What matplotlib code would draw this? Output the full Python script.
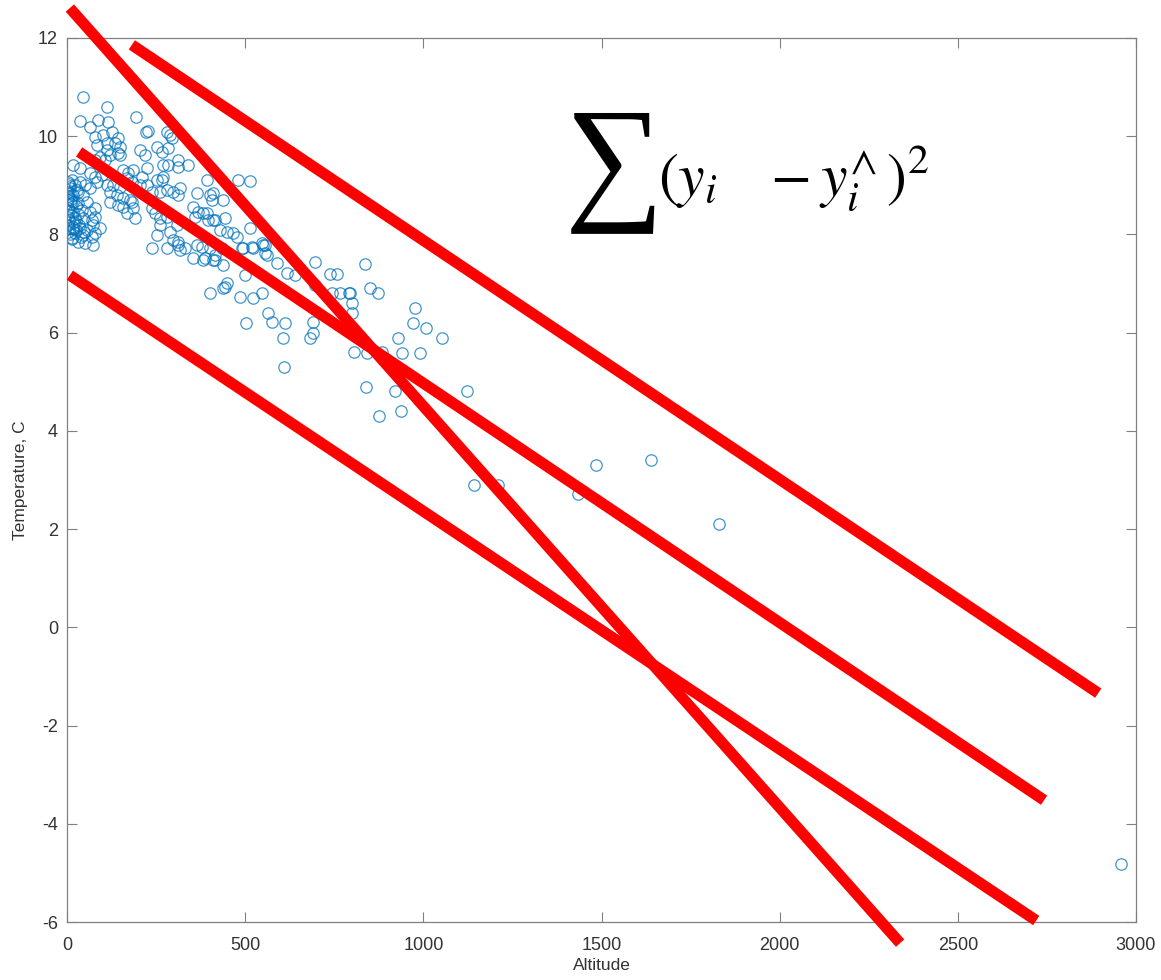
import matplotlib
matplotlib.use('Agg')
import matplotlib.pyplot as plt
import numpy as np

plt.rcParams['font.family'] = ['Liberation Sans', 'DejaVu Sans']
plt.rcParams['mathtext.fontset'] = 'stix'
plt.rcParams['axes.unicode_minus'] = False

# altitude / temperature readings
alt_low = [45, 112, 36, 65, 87, 115, 194, 227, 222, 281, 79, 101, 126, 143, 84, 112, 135, 149,
           112, 121, 143, 149, 253, 267, 283, 205, 219, 93, 79, 107, 17, 36, 269, 283, 312, 157,
           185, 171, 65, 79, 98, 225, 211, 253, 267, 269, 3, 14, 22, 36, 51, 65, 84, 112, 129,
           149, 168, 182, 205, 225, 239, 261, 281, 298, 8, 3, 17, 31, 45, 121, 140, 157, 177,
           3, 17, 31, 56, 121, 143, 157, 185, 182, 3, 17, 42, 65, 79, 191, 168, 3, 22, 45, 70,
           79, 239, 247, 261, 281, 3, 17, 36, 56, 73, 93, 3, 22, 45, 70, 79, 14, 31, 51, 73,
           253, 289, 309, 261, 312, 239, 281,
           8, 3, 10, 5, 12, 20, 26, 8, 14, 28, 5, 10, 24, 33, 6, 18, 40, 9, 30, 48, 12, 25]
temp_low = [10.8, 10.59, 10.31, 10.19, 10.33, 10.29, 10.39, 10.11, 10.09, 10.09, 9.98, 10.02,
            10.09, 9.96, 9.82, 9.86, 9.86, 9.78, 9.72, 9.62, 9.66, 9.62, 9.78, 9.68, 9.76, 9.72,
            9.62, 9.58, 9.51, 9.51, 9.41, 9.35, 9.41, 9.41, 9.37, 9.31, 9.31, 9.25, 9.25, 9.17,
            9.21, 9.35, 9.17, 9.11, 9.11, 9.17, 9.07, 9.11, 9.0, 9.07, 9.0, 8.94, 9.07, 9.0, 9.0,
            8.96, 9.15, 9.07, 9.0, 9.0, 8.86, 8.86, 8.9, 8.86, 8.94, 8.86, 8.8, 8.86, 8.8, 8.86,
            8.8, 8.74, 8.7, 8.7, 8.66, 8.64, 8.66, 8.66, 8.6, 8.56, 8.54, 8.66, 8.54, 8.46, 8.5,
            8.46, 8.54, 8.33, 8.44, 8.35, 8.33, 8.33, 8.29, 8.35, 8.54, 8.44, 8.33, 8.35, 8.19,
            8.15, 8.13, 8.09, 8.19, 8.13, 8.05, 8.03, 7.99, 7.95, 8.03, 7.93, 7.84, 7.82, 7.78,
            7.99, 8.05, 8.19, 8.19, 7.84, 7.72, 7.72,
            8.98, 8.78, 8.62, 8.48, 8.4, 8.25, 8.1, 8.0, 7.9, 8.9, 8.3, 8.72, 8.58, 8.2, 9.02,
            8.12, 7.95, 8.85, 8.42, 8.05, 8.68, 8.28]

alt_mid = [289, 295, 312, 340, 393, 480, 514, 317, 312, 365, 401, 407, 438, 354, 368, 359,
           382, 396, 410, 443, 429, 449, 466, 477, 514, 298, 312, 331, 317, 365, 379, 401, 415,
           435, 491, 519, 550, 354, 382, 410, 556, 696, 410, 415, 393, 494, 522, 556, 547, 387,
           415, 438, 500, 561, 589, 617, 640, 738, 758, 836, 696, 744, 766, 794, 800, 850, 873,
           443, 438, 449, 401, 486, 522, 547, 502, 564, 575, 612, 606, 690, 682, 690, 609, 977,
           971, 1008, 1052, 929, 940, 991, 805, 842, 884, 839, 920, 1123, 937, 876, 800, 791]
temp_mid = [10.02, 9.96, 9.51, 9.41, 9.11, 9.11, 9.09, 8.94, 8.8, 8.84, 8.8, 8.7, 8.7, 8.56,
            8.46, 8.35, 8.44, 8.29, 8.29, 8.33, 8.09, 8.05, 8.03, 7.95, 8.13, 7.89, 7.78, 7.72,
            7.68, 7.78, 7.74, 7.72, 7.58, 7.72, 7.72, 7.74, 7.78, 7.52, 7.48, 7.48, 7.62, 7.44,
            8.85, 8.3, 8.44, 7.72, 7.72, 7.78, 7.82, 7.52, 7.48, 7.38, 7.17, 7.58, 7.42, 7.21,
            7.17, 7.19, 7.19, 7.4, 6.97, 6.81, 6.81, 6.81, 6.6, 6.91, 6.81, 6.93, 6.91, 7.01,
            6.81, 6.73, 6.71, 6.81, 6.2, 6.4, 6.22, 6.2, 5.89, 6.22, 5.89, 5.99, 5.3, 6.5, 6.2,
            6.09, 5.89, 5.89, 5.58, 5.58, 5.6, 5.58, 5.6, 4.89, 4.81, 4.81, 4.4, 4.3, 6.4, 6.81]

alt_high = [1142, 1210, 1434, 1485, 1639, 1830, 2958]
temp_high = [2.89, 2.89, 2.71, 3.3, 3.4, 2.1, -4.81]

altitude = alt_low + alt_mid + alt_high
temperature = temp_low + temp_mid + temp_high

# candidate fit lines (start / end points)
line_x = [[8, 2338], [182, 2894], [34, 2742], [8, 2720]]
line_y = [[12.61, -6.43], [11.86, -1.34], [9.68, -3.52], [7.17, -5.97]]

fig = plt.figure(figsize=(11.61, 9.80), dpi=100)
ax = fig.add_axes([67/1161, 58/980, 1069/1161, 884/980])

ax.plot(altitude, temperature, 'o', mfc='none', mec=(0.0, 0.447, 0.741), ms=8.2, mew=0.9, alpha=0.75)

for lx, ly in zip(line_x, line_y):
    ax.plot(lx, ly, color='#ff0000', lw=8, solid_capstyle='butt', clip_on=False, zorder=5)

ax.set_xlim(0, 3000)
ax.set_ylim(-6, 12)
ax.set_xticks(np.arange(0, 3001, 500))
ax.set_yticks(np.arange(-6, 13, 2))
ax.tick_params(direction='in', length=7, width=0.8, colors='#808080', labelcolor='#333333',
               labelsize=13, top=True, right=True)
ax.tick_params(axis='x', pad=11)
ax.tick_params(axis='y', pad=6.5)
for s in ax.spines.values():
    s.set_color('#808080')
    s.set_linewidth(0.9)
ax.set_xlabel('Altitude', fontsize=12.5, color='#333333', labelpad=3)
ax.set_ylabel('Temperature, C', fontsize=12.5, color='#333333', labelpad=7)

fig.text(565/1161, 1 - 106/980, '\u2211', fontsize=100, va='top', ha='left',
         family=['Liberation Serif', 'DejaVu Serif'])
fig.text(658/1161, 1 - 195/980, r'$(y_i\ \ \ -y_i^{\wedge}\,)^2$', fontsize=43,
         va='baseline', ha='left')

fig.savefig('out.png', dpi=100)
